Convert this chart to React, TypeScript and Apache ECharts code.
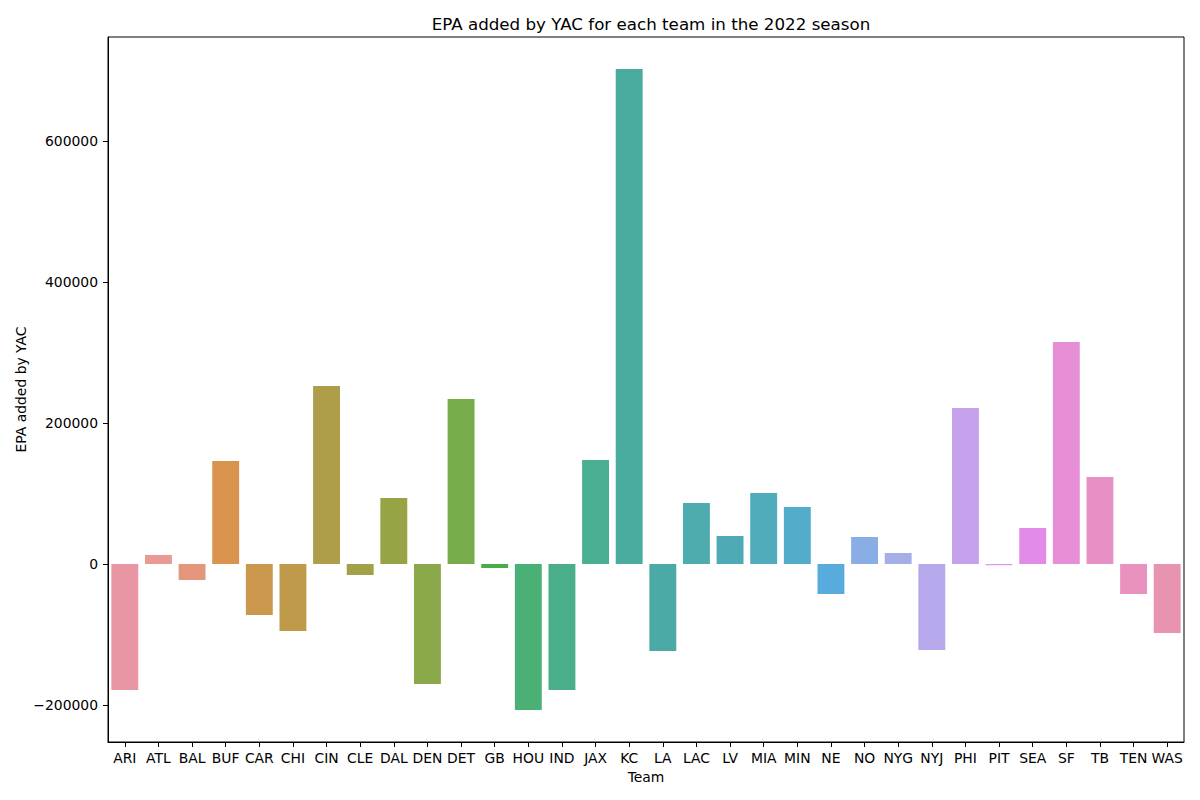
import React, { useEffect, useRef } from "react";
import * as echarts from "echarts";

const teams = ["ARI","ATL","BAL","BUF","CAR","CHI","CIN","CLE","DAL","DEN","DET","GB","HOU","IND","JAX","KC","LA","LAC","LV","MIA","MIN","NE","NO","NYG","NYJ","PHI","PIT","SEA","SF","TB","TEN","WAS"];
const epaValues = [-178700,12800,-22700,146100,-72300,-95000,252500,-15600,93600,-170200,234000,-5700,-207100,-178700,147500,702100,-123400,86500,39700,100700,80800,-42600,38300,15600,-122000,221300,-1800,51100,314900,123400,-42600,-97900];
const barColors = ["#e896a4","#e89a94","#e5957a","#d9934f","#cb984d","#be9a4a","#ae9e4a","#a3a148","#98a346","#8ba84a","#76ad4a","#4aad4a","#4bb076","#4aae89","#4aaf93","#4aac9e","#4caaa6","#4eabae","#4eaab5","#50abbd","#53acca","#58acdd","#89aee5","#a4afe8","#b7a8eb","#c5a1eb","#d79ce9","#e28be6","#e68fd6","#e890c6","#e892bd","#e893b0"];
const yTicks = [-200000, 0, 200000, 400000, 600000];
const yMin = -252500;
const yMax = 747500;

export default function App() {
  const ref = useRef<HTMLDivElement>(null);
  useEffect(() => {
    if (!ref.current) return;
    const chart = echarts.init(ref.current, null, { renderer: "svg" });
    const font = "DejaVu Sans";
    chart.setOption({
      animation: false,
      backgroundColor: "#ffffff",
      title: {
        text: "EPA added by YAC for each team in the 2022 season",
        left: 646,
        top: 10,
        textAlign: "center",
        textStyle: { fontFamily: font, fontSize: 16.7, fontWeight: "normal", color: "#000" },
      },
      grid: {
        left: 108, right: 16, top: 37, bottom: 58,
        show: true, borderColor: "#000", borderWidth: 1, backgroundColor: "transparent",
      },
      xAxis: {
        type: "category",
        data: teams,
        name: "Team",
        nameLocation: "middle",
        nameGap: 28,
        nameMoveOverlap: false,
        nameTextStyle: { fontFamily: font, fontSize: 13.9, color: "#000" },
        axisLine: { show: true, onZero: false, lineStyle: { color: "#000", width: 1 } },
        axisTick: { show: true, alignWithLabel: true, length: 5, lineStyle: { color: "#000" } },
        axisLabel: { fontFamily: font, fontSize: 13.9, color: "#000", margin: 9, interval: 0 },
        splitLine: { show: false },
      },
      yAxis: {
        type: "value",
        min: yMin,
        max: yMax,
        name: "EPA added by YAC",
        nameLocation: "middle",
        nameGap: 80,
        nameMoveOverlap: false,
        nameTextStyle: { fontFamily: font, fontSize: 13.9, color: "#000" },
        axisLine: { show: true, lineStyle: { color: "#000", width: 1 } },
        axisTick: { show: true, length: 5, lineStyle: { color: "#000" }, customValues: yTicks },
        axisLabel: {
          fontFamily: font, fontSize: 13.9, color: "#000", margin: 10,
          customValues: yTicks,
          formatter: (v: number) => String(v).replace("-", "\u2212"),
        },
        splitLine: { show: false },
      },
      series: [
        {
          type: "bar",
          data: epaValues.map((v, i) => ({ value: v, itemStyle: { color: barColors[i] } })),
          barCategoryGap: "20%",
        },
      ],
    });
    return () => chart.dispose();
  }, []);
  return <div ref={ref} style={{ width: 1200, height: 800, position: "absolute", left: 0, top: 0 }} />;
}
